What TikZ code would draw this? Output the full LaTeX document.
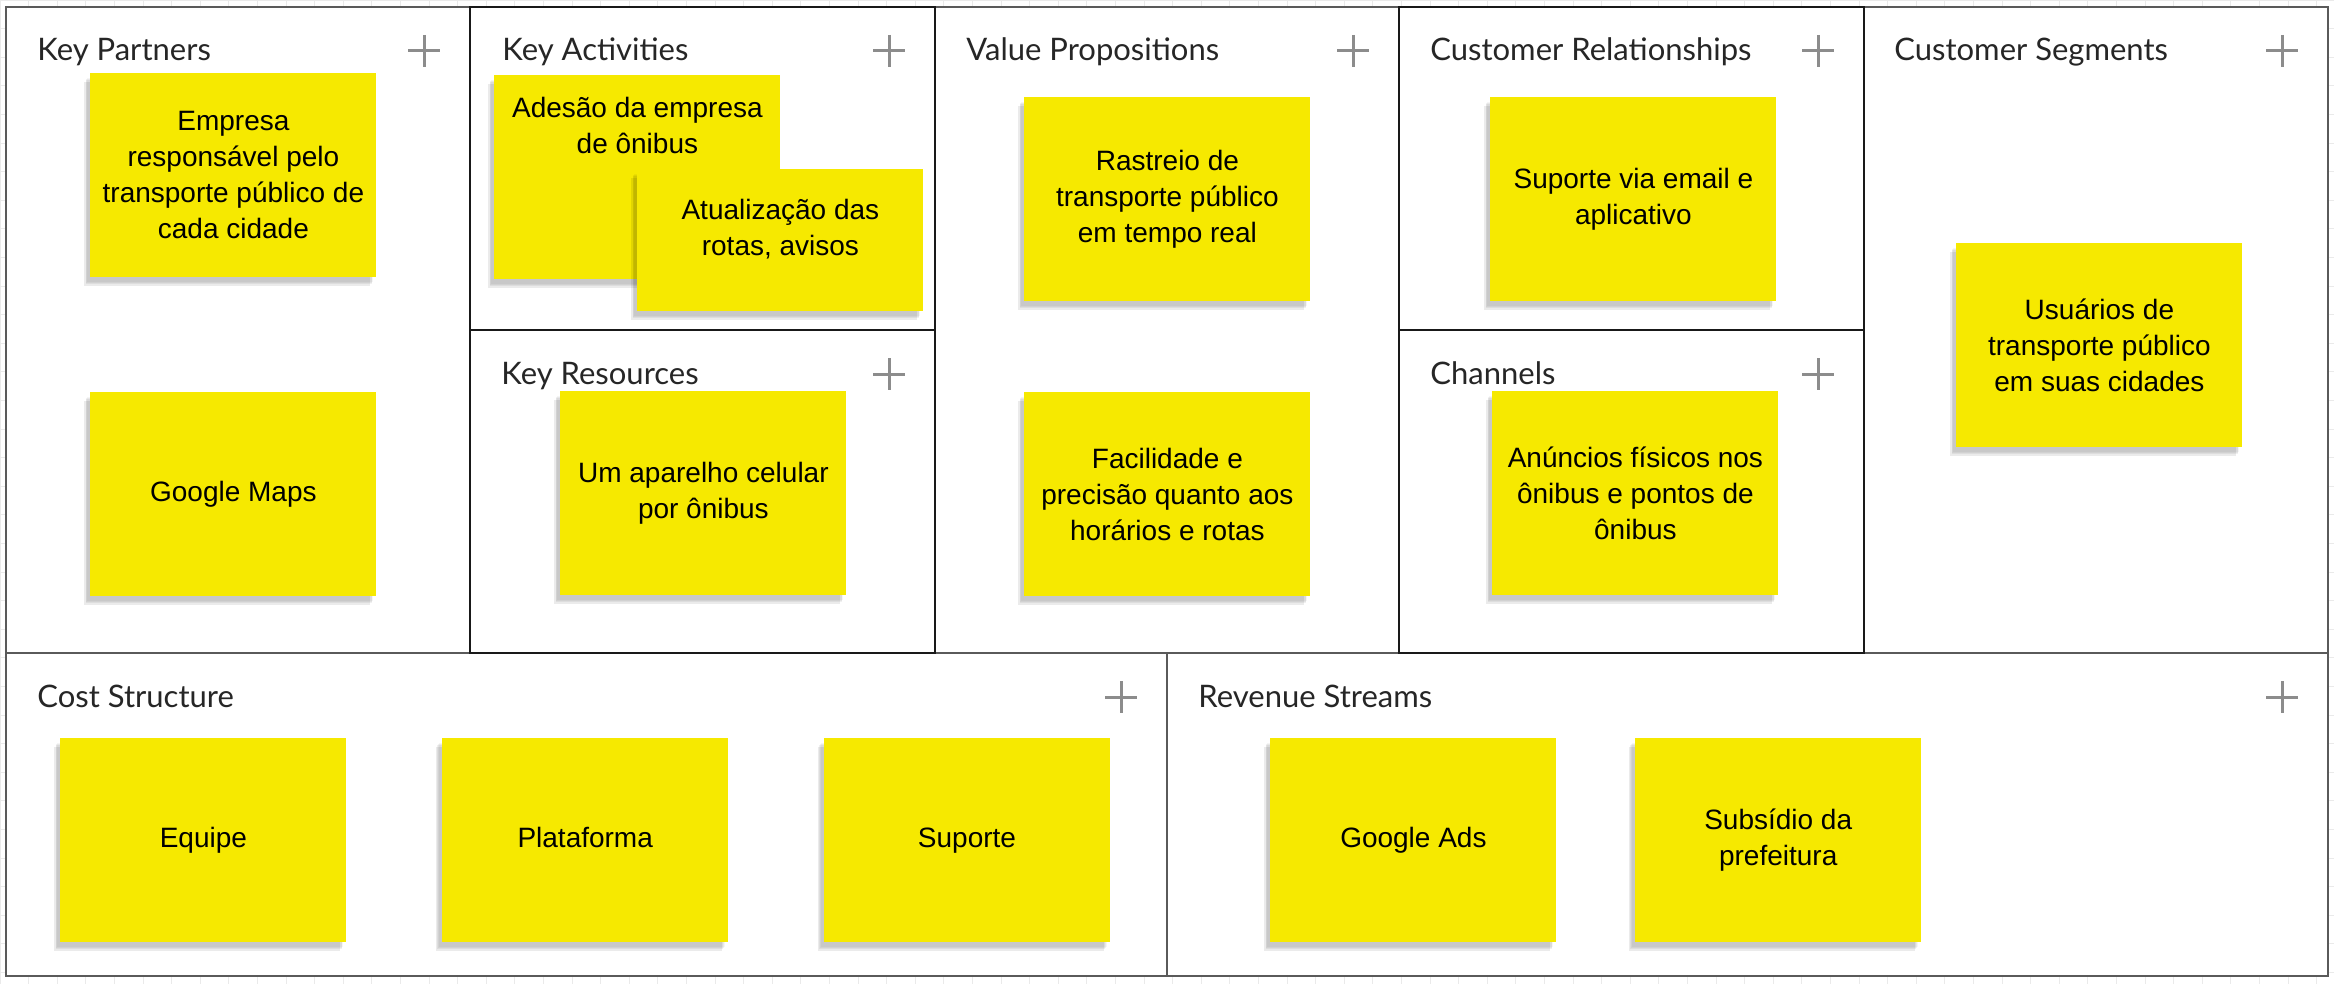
\documentclass[tikz,border=0pt]{standalone}
\usepackage{fontspec}
\setmainfont{Liberation Sans}
\newfontfamily\latofont{Lato}
\usetikzlibrary{positioning}
\definecolor{stickyyellow}{HTML}{F6E900}
\definecolor{framegray}{HTML}{5A5A5A}
\definecolor{plusgray}{HTML}{8C8C8C}
\definecolor{gridgray}{HTML}{EAEAEA}

\begin{document}
\begin{tikzpicture}[x=0.5pt,y=-0.5pt,
  celltitle/.style={anchor=base west,inner sep=0,text=black!85,font=\latofont\fontsize{15.5pt}{18pt}\selectfont},
  softshade/.style={preaction={fill=black,fill opacity=#1,transform canvas={xshift=-#1*40pt,yshift=-#1*55pt}}},
  sticky/.style={anchor=north west,fill=stickyyellow,inner sep=0,minimum width=143pt,minimum height=102pt,
    align=center,font=\fontsize{14pt}{18pt}\selectfont,
    softshade=.08,softshade=.06,softshade=.05,softshade=.04},
  notetext/.style={anchor=north,inner sep=0,align=center,font=\fontsize{14pt}{18pt}\selectfont},
  addsign/.pic={\draw[plusgray,line width=1.5pt] (-16,0) -- (16,0) (0,-16) -- (0,16);}]
  \useasboundingbox (0,0) rectangle (2334,984);
  % canvas
  \draw[gridgray,step=14.3pt] (0,984) grid (2334,0);
  \fill[white] (6,7) rectangle (2328,976);
  \draw[framegray,line width=1pt] (6,7) rectangle (2328,976) (6,653) -- (2328,653) (1167,653) -- (1167,976);
  \draw[black!90,line width=1pt] (470,7) rectangle (935,653) (470,330) -- (935,330)
    (1399,7) rectangle (1864,653) (1399,330) -- (1864,330);

  % titles
  \node[celltitle] (kp) at (37,61)   {Key Partners};
  \node[celltitle] (ka) at (502,61)  {Key Activities};
  \node[celltitle] (kr) at (501,384) {Key Resources};
  \node[celltitle] (vp) at (966,61)  {Value Propositions};
  \node[celltitle] (cr) at (1430,61) {Customer Relationships};
  \node[celltitle] (ch) at (1430,384) {Channels};
  \node[celltitle] (cs) at (1894,61) {Customer Segments};
  \node[celltitle] (co) at (37,707)  {Cost Structure};
  \node[celltitle] (rs) at (1198,707) {Revenue Streams};
  \pic at (424,51) {addsign};
  \pic at (889,51) {addsign};
  \pic at (889,374) {addsign};
  \pic at (1353,51) {addsign};
  \pic at (1818,51) {addsign};
  \pic at (1818,374) {addsign};
  \pic at (2282,51) {addsign};
  \pic at (1121,697) {addsign};
  \pic at (2282,697) {addsign};

  % sticky notes
  \node[sticky] (partner1) at (90,73) {Empresa\\responsável pelo\\transporte público de\\cada cidade};
  \node[sticky] (partner2) [below=57pt of partner1] {\strut Google Maps};
  \node[sticky,label={[notetext,yshift=-11pt]north:{Adesão da empresa\\de ônibus}}] (activity1) at (494,75) {};
  \node[sticky,minimum height=71pt,label={[notetext,yshift=-15pt]north:{Atualização das\\rotas, avisos}}] (activity2) at (637,169) {};
  \node[sticky] (resource) at (560,391) {Um aparelho celular\\por ônibus};
  \node[sticky] (value1) at (1024,97) {Rastreio de\\transporte público\\em tempo real};
  \node[sticky] (value2) [below=45pt of value1] {Facilidade e\\precisão quanto aos\\horários e rotas};
  \node[sticky] (relation) at (1490,97) {Suporte via email e\\aplicativo};
  \node[sticky] (channel) at (1492,391) {Anúncios físicos nos\\ônibus e pontos de\\ônibus};
  \node[sticky] (segment) at (1956,243) {Usuários de\\transporte público\\em suas cidades};
  \node[sticky] (cost1) at (60,738) {\strut Equipe};
  \node[sticky] (cost2) [right=47.5pt of cost1] {\strut Plataforma};
  \node[sticky] (cost3) [right=47.5pt of cost2] {\strut Suporte};
  \node[sticky] (revenue1) at (1270,738) {\strut Google Ads};
  \node[sticky] (revenue2) [right=39pt of revenue1] {Subsídio da\\prefeitura};
\end{tikzpicture}
\end{document}
